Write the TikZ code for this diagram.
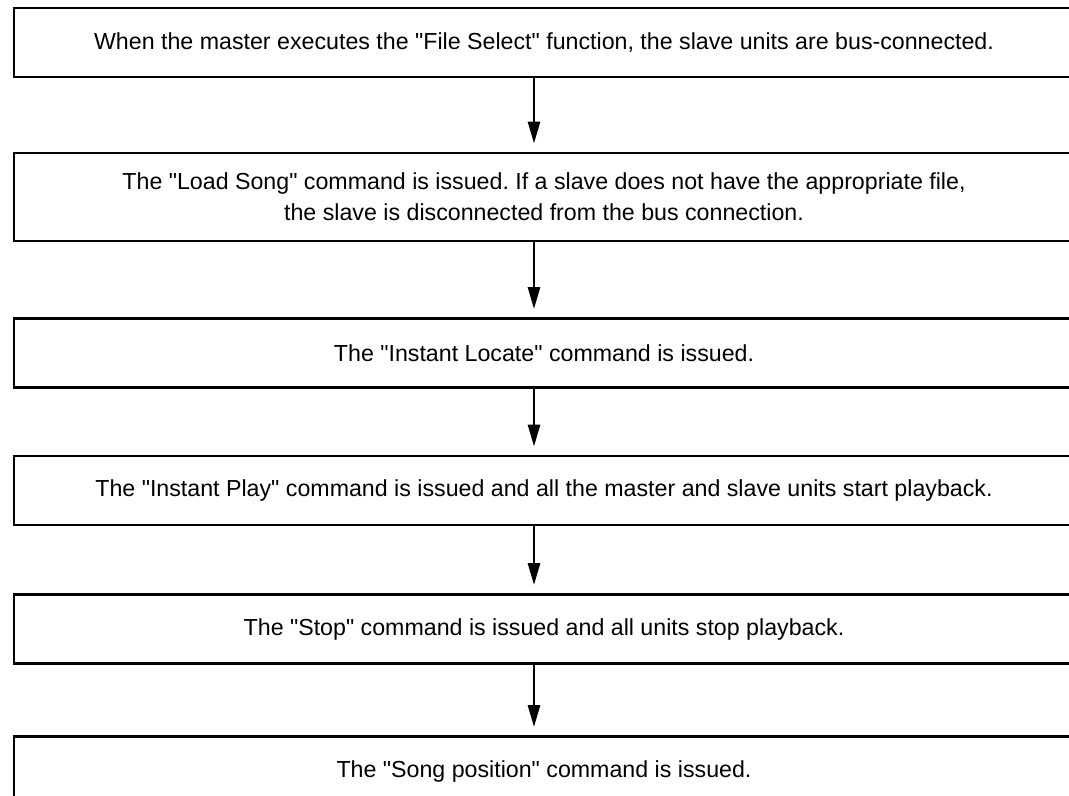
\documentclass[tikz,border=0pt]{standalone}
\usepackage{fontspec}
\setmainfont{Liberation Sans}
\usepackage{tikz}
\usetikzlibrary{arrows.meta}
\usepackage{xcolor}
\frenchspacing
\newcommand{\qt}{\textquotedbl}

\tikzset{
  stepbox/.style={draw=black, line width=2.2pt, minimum width=795pt, minimum height=51.75pt,
    align=center, inner sep=0pt, font=\fontsize{17.4}{23}\selectfont},
  flow/.style={line width=2.2pt, -{Triangle[length=16.5pt,width=9pt]}, shorten >=6pt}
}

\begin{document}
\begin{tikzpicture}[x=0.75pt,y=-0.75pt]
        \clip (0,0) rectangle (1069,795);
        % pasos
        \node[stepbox] (b1) at (544,42.5) {When the master executes the \qt File Select\qt{} function, the slave units are bus-connected.};
        \node[stepbox, minimum height=66pt] (b2) at (544,197) {The \qt Load Song\qt{} command is issued. If a slave does not have the appropriate file,\\ the slave is disconnected from the bus connection.};
        \node[stepbox] (b3) at (544,353) {The \qt Instant Locate\qt{} command is issued.};
        \node[stepbox] (b4) at (544,490.5) {The \qt Instant Play\qt{} command is issued and all the master and slave units start playback.};
        \node[stepbox] (b5) at (544,629) {The \qt Stop\qt{} command is issued and all units stop playback.};
        \node[stepbox] (b6) at (544,771) {The \qt Song position\qt{} command is issued.};
        % flechas entre pasos
        \coordinate (ax) at (534,0);
        \foreach \a/\b in {b1/b2,b2/b3,b3/b4,b4/b5,b5/b6}
        \draw[flow] (\a.south -| ax) -- (\b.north -| ax);
\end{tikzpicture}
\end{document}
